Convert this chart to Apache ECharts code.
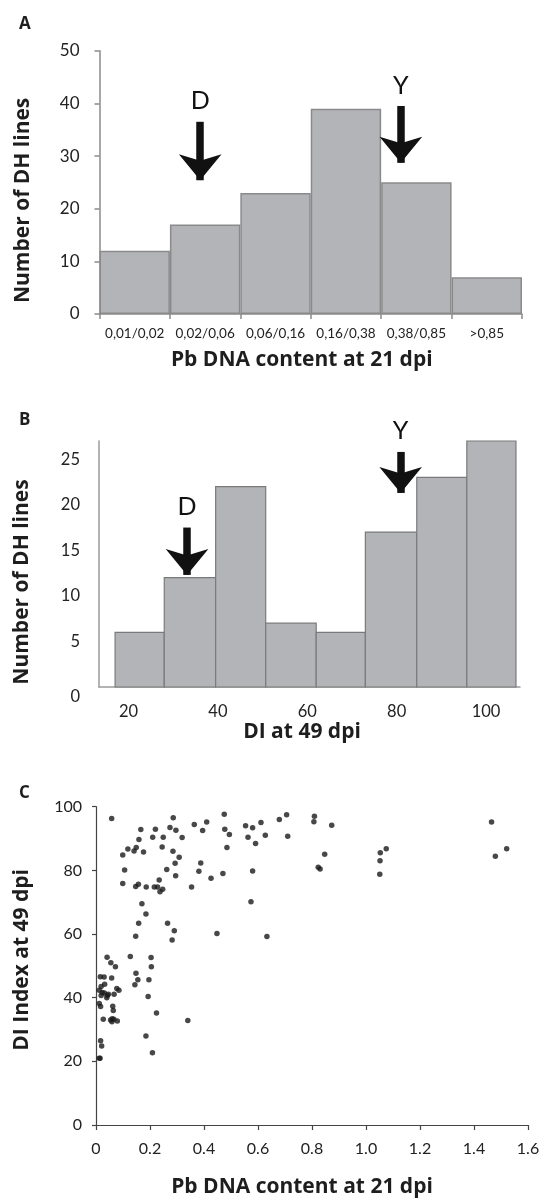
<!DOCTYPE html>
<html>
<head>
<meta charset="utf-8">
<title>Pb DNA content and DI of DH lines</title>
<script src="https://cdn.jsdelivr.net/npm/echarts@6.0.0/dist/echarts.min.js"></script>
<style>
  html, body { margin: 0; padding: 0; background: #fff; }
  #main { width: 551px; height: 1200px; }
</style>
</head>
<body>
<div id="main"></div>
<script>
// A: number of DH lines per Pb DNA content class (21 dpi)
var classesA = ['0,01/0,02', '0,02/0,06', '0,06/0,16', '0,16/0,38', '0,38/0,85', '>0,85'];
var countsA = [12, 17, 23, 39, 25, 7];

// B: number of DH lines per DI class (49 dpi)
var binFromB = [17, 28, 39.5, 50.7, 62, 73, 84.5, 95.7];
var binToB = [28, 39.5, 50.7, 62, 73, 84.5, 95.7, 106.7];
var countsB = [6, 12, 22, 7, 6, 17, 23, 27];
var xLabelsB = [20, 40, 60, 80, 100];
var yLabelsB = [0, 5, 10, 15, 20, 25];

// C: Pb DNA content (21 dpi) vs DI index (49 dpi)
var scatterC = [
  [0.058, 96.3], [0.099, 84.8], [0.118, 86.7], [0.106, 80.1], [0.099, 75.9], [0.141, 86.1],
  [0.149, 87.2], [0.159, 89.7], [0.166, 92.8], [0.176, 85.8], [0.147, 74.9], [0.157, 75.6],
  [0.186, 74.8], [0.170, 69.5], [0.185, 66.3], [0.158, 63.4], [0.147, 59.3], [0.210, 90.4],
  [0.220, 92.9], [0.216, 74.8], [0.228, 74.8], [0.234, 77.0], [0.237, 73.3], [0.247, 74.1],
  [0.245, 87.3], [0.249, 90.4], [0.262, 80.3], [0.274, 93.5], [0.286, 96.5], [0.296, 92.6],
  [0.285, 86.0], [0.293, 82.2], [0.295, 78.3], [0.308, 84.1], [0.319, 90.3], [0.265, 63.4],
  [0.290, 61.0], [0.282, 58.1], [0.354, 74.8], [0.364, 94.4], [0.395, 92.5], [0.410, 95.2],
  [0.388, 82.3], [0.381, 79.7], [0.426, 77.5], [0.448, 60.2], [0.475, 97.6], [0.477, 92.9],
  [0.494, 91.3], [0.485, 87.2], [0.470, 79.0], [0.554, 94.0], [0.563, 90.4], [0.580, 93.4],
  [0.591, 88.4], [0.580, 79.8], [0.574, 70.1], [0.611, 95.0], [0.627, 91.0], [0.633, 59.2],
  [0.679, 96.0], [0.706, 97.5], [0.710, 90.7], [0.809, 97.0], [0.807, 95.3], [0.873, 94.2],
  [0.847, 85.1], [0.823, 81.0], [0.830, 80.4], [1.053, 85.5], [1.075, 86.8], [1.052, 83.0],
  [1.051, 78.8], [1.465, 95.2], [1.479, 84.4], [1.521, 86.8],
  [0.041, 52.7], [0.055, 51.0], [0.072, 49.7], [0.127, 52.9], [0.204, 52.6], [0.205, 49.7],
  [0.148, 47.7], [0.155, 45.6], [0.144, 44.1], [0.196, 45.6], [0.193, 40.4], [0.224, 35.2],
  [0.185, 28.0], [0.209, 22.7], [0.340, 32.8],
  [0.016, 46.6], [0.030, 46.5], [0.058, 46.2], [0.032, 44.2], [0.019, 43.5], [0.012, 42.3],
  [0.023, 41.6], [0.019, 40.7], [0.031, 41.5], [0.042, 40.7], [0.046, 41.1], [0.040, 40.0],
  [0.067, 41.1], [0.077, 42.9], [0.085, 42.3], [0.012, 38.2], [0.017, 37.2], [0.062, 37.3],
  [0.064, 36.0], [0.027, 33.2], [0.054, 33.0], [0.060, 33.4], [0.066, 33.2], [0.059, 32.4],
  [0.079, 32.7], [0.017, 26.5], [0.021, 24.8], [0.012, 21.0], [0.015, 21.0]
];

var font = 'Lato, "Open Sans", sans-serif';
var titleFont = '"Open Sans", Lato, sans-serif';
var ink = '#1e1e1e';

var binsB = [];
for (var i = 0; i < countsB.length; i++) {
  binsB.push([binFromB[i], binToB[i], countsB[i]]);
}

function titleStyle(pad) {
  return { fontFamily: titleFont, fontSize: 21, fontWeight: 'bold', color: ink, padding: pad };
}

// arrow annotations (marker letter + downward arrow)
function arrowLine(name, x, yTop, yTip) {
  return [
    { name: name, coord: [x, yTop], symbol: 'none' },
    { name: name, coord: [x, yTip], symbol: 'arrow' }
  ];
}
function arrowMarks(lines) {
  return {
    silent: true,
    animation: false,
    symbolSize: [32, 26],
    lineStyle: { color: '#111', width: 7.5, type: 'solid', opacity: 1 },
    label: {
      show: true, position: 'start', formatter: '{b}', distance: 8,
      fontFamily: font, fontSize: 25, color: '#111'
    },
    emphasis: { disabled: true },
    data: lines
  };
}

var myChart = echarts.init(document.getElementById('main'));

var option = {
  animation: false,
  backgroundColor: '#fff',
  textStyle: { fontFamily: font },
  graphic: [
    { type: 'text', left: 19, top: 16, style: { text: 'A', font: 'bold 17px "Open Sans", sans-serif', fill: ink } },
    { type: 'text', left: 19, top: 412, style: { text: 'B', font: 'bold 17px "Open Sans", sans-serif', fill: ink } },
    { type: 'text', left: 19, top: 785, style: { text: 'C', font: 'bold 17px "Open Sans", sans-serif', fill: ink } }
  ],
  grid: [
    { left: 99.5, top: 50.7, width: 422.5, height: 263.3 },
    { left: 99, top: 441, width: 421, height: 246 },
    { left: 96, top: 806.7, width: 432, height: 318.3 }
  ],
  xAxis: [
    {
      type: 'category', gridIndex: 0, data: classesA,
      name: 'Pb DNA content at 21 dpi', nameLocation: 'middle', nameGap: 36,
      nameTextStyle: titleStyle([0, 18, 0, 0]),
      axisLine: { lineStyle: { color: '#8a8a8a', width: 1.5 } },
      axisTick: { show: true, interval: 0, length: 5, lineStyle: { color: '#8a8a8a', width: 1.5 } },
      axisLabel: { interval: 0, margin: 13, fontSize: 13.5, color: '#222' }
    },
    { type: 'value', gridIndex: 0, min: 0, max: 6, show: false },
    {
      type: 'value', gridIndex: 1, min: 13.4, max: 107.6,
      name: 'DI at 49 dpi', nameLocation: 'middle', nameGap: 35,
      nameTextStyle: titleStyle([0, 15, 0, 0]),
      splitLine: { show: false },
      axisLine: { lineStyle: { color: '#9a9a9a', width: 1.5 } },
      axisTick: { show: false },
      axisLabel: { customValues: xLabelsB, margin: 16, fontSize: 16.5, color: '#222' }
    },
    {
      type: 'value', gridIndex: 2, min: 0, max: 1.6, interval: 0.2,
      name: 'Pb DNA content at 21 dpi', nameLocation: 'middle', nameGap: 52,
      nameTextStyle: titleStyle([0, 20, 0, 0]),
      splitLine: { show: false },
      axisLine: { lineStyle: { color: '#444', width: 1.2 } },
      axisTick: { show: true, length: 5, lineStyle: { color: '#444', width: 1.2 } },
      axisLabel: {
        margin: 16, fontSize: 16, color: '#222',
        formatter: function (v) { return v === 0 ? '{z|0}' : v.toFixed(1); },
        rich: { z: { fontSize: 16, color: '#222', padding: [0, 0, 16, 0] } }
      }
    }
  ],
  yAxis: [
    {
      type: 'value', gridIndex: 0, min: 0, max: 50, interval: 10,
      name: 'Number of DH lines', nameLocation: 'middle', nameGap: 66,
      nameTextStyle: titleStyle([0, 36, 0, 0]),
      splitLine: { show: false },
      axisLine: { show: true, lineStyle: { color: '#8a8a8a', width: 1.5 } },
      axisTick: { show: true, length: 5, lineStyle: { color: '#8a8a8a', width: 1.5 } },
      axisLabel: { margin: 20, fontSize: 17, color: '#222' }
    },
    {
      type: 'value', gridIndex: 1, min: 0, max: 27,
      name: 'Number of DH lines', nameLocation: 'middle', nameGap: 66,
      nameTextStyle: titleStyle([0, 36, 0, 0]),
      splitLine: { show: false },
      axisLine: { show: true, lineStyle: { color: '#9a9a9a', width: 1.5 } },
      axisTick: { show: false },
      axisLabel: {
        customValues: yLabelsB, margin: 19, fontSize: 16.5, color: '#222',
        formatter: function (v) { return v === 0 ? '{z|0}' : v; },
        rich: { z: { fontSize: 16.5, color: '#222', padding: [20, 0, 0, 0] } }
      }
    },
    {
      type: 'value', gridIndex: 2, min: 0, max: 100, interval: 20,
      name: 'DI Index at 49 dpi', nameLocation: 'middle', nameGap: 63,
      nameTextStyle: titleStyle([0, 0, 0, 12]),
      splitLine: { show: false },
      axisLine: { show: true, lineStyle: { color: '#444', width: 1.2 } },
      axisTick: { show: true, length: 4, lineStyle: { color: '#444', width: 1.2 } },
      axisLabel: { margin: 14, fontSize: 16, color: '#222' }
    }
  ],
  series: [
    {
      type: 'bar', xAxisIndex: 0, yAxisIndex: 0, data: countsA,
      barCategoryGap: 0,
      itemStyle: { color: '#b3b4b8', borderColor: '#8a8a8a', borderWidth: 1.5 }
    },
    {
      type: 'line', xAxisIndex: 1, yAxisIndex: 0, data: [],
      markLine: arrowMarks([
        arrowLine('D', 1.43, 36.5, 25.4),
        arrowLine('Y', 4.28, 39.5, 28.7)
      ])
    },
    {
      type: 'custom', xAxisIndex: 2, yAxisIndex: 1, data: binsB,
      renderItem: function (params, api) {
        var p0 = api.coord([api.value(0), api.value(2)]);
        var p1 = api.coord([api.value(1), 0]);
        return {
          type: 'rect',
          shape: { x: p0[0], y: p0[1], width: p1[0] - p0[0], height: p1[1] - p0[1] },
          style: { fill: '#b3b4b8', stroke: '#7a7a7a', lineWidth: 1.2 }
        };
      },
      markLine: arrowMarks([
        arrowLine('D', 33.1, 17.5, 12.3),
        arrowLine('Y', 80.9, 25.8, 21.3)
      ])
    },
    {
      type: 'scatter', xAxisIndex: 3, yAxisIndex: 2, data: scatterC,
      symbolSize: 5.5,
      itemStyle: { color: '#1a1a1a' }
    }
  ]
};

myChart.setOption(option);
</script>
</body>
</html>
